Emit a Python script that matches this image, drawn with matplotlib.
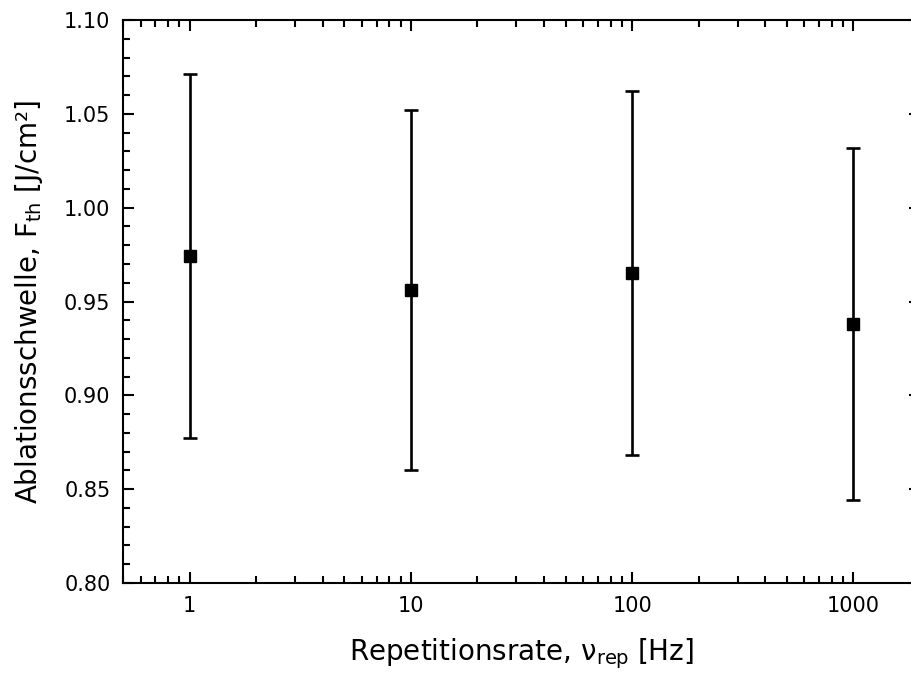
import matplotlib
matplotlib.use("Agg")
import matplotlib.pyplot as plt
from matplotlib.ticker import FixedLocator, FixedFormatter, MultipleLocator, LogLocator, NullFormatter

# repetition rate [Hz] vs. ablation threshold fluence [J/cm^2]
rep_rate = [1, 10, 100, 1000]
f_th = [0.974, 0.956, 0.965, 0.938]
f_th_err = [0.097, 0.096, 0.097, 0.094]
xtick_vals = [1, 10, 100, 1000]
xtick_labels = ["1", "10", "100", "1000"]

plt.rcParams['font.family'] = ['DejaVu Sans']
plt.rcParams['mathtext.fontset'] = 'dejavusans'

fig = plt.figure(figsize=(9.12, 6.82), dpi=100)
# right spine sits just past the edge of the canvas
ax = fig.add_axes([123/912, 1 - 583/682, (920 - 123)/912, (583 - 20)/682])

ax.errorbar(rep_rate, f_th, yerr=f_th_err, fmt='s', color='black',
            markersize=8.5, elinewidth=1.9, capsize=5, capthick=1.9)

ax.set_xscale('log')
ax.set_xlim(0.5, 2000)
ax.set_ylim(0.80, 1.10)

ax.xaxis.set_major_locator(FixedLocator(xtick_vals))
ax.xaxis.set_major_formatter(FixedFormatter(xtick_labels))
ax.xaxis.set_minor_locator(LogLocator(base=10, subs=range(2, 10)))
ax.xaxis.set_minor_formatter(NullFormatter())
ax.yaxis.set_major_locator(MultipleLocator(0.05))
ax.yaxis.set_minor_locator(MultipleLocator(0.01))
ax.yaxis.set_major_formatter(matplotlib.ticker.FormatStrFormatter('%.2f'))

ax.tick_params(which='both', direction='in', top=True, right=True, width=1.5, labelsize=15)
ax.tick_params(which='major', length=8, pad=9)
ax.tick_params(which='minor', length=5)
for s in ax.spines.values():
    s.set_linewidth(1.5)

ax.set_xlabel("Repetitionsrate, ν$_{\\mathregular{rep}}$ [Hz]", fontsize=20, labelpad=15)
ax.set_ylabel("Ablationsschwelle, F$_{\\mathregular{th}}$ [J/cm²]", fontsize=20, labelpad=14)

fig.savefig("out.png", dpi=100)
